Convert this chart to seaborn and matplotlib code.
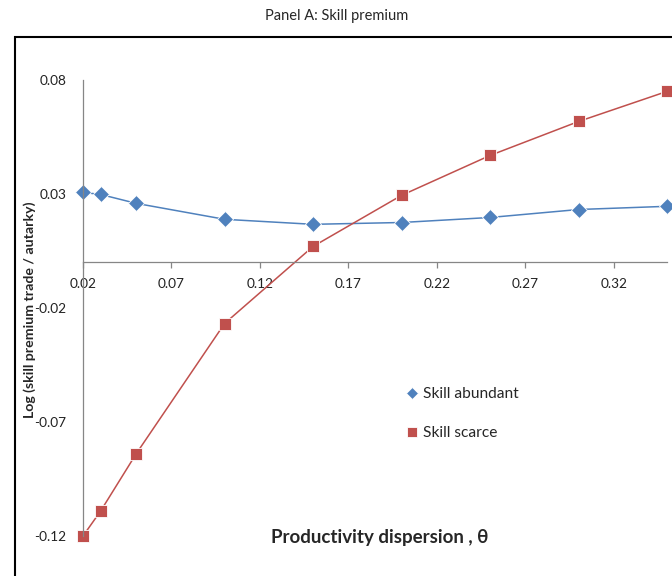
import matplotlib
matplotlib.use("Agg")
import matplotlib.pyplot as plt
import seaborn as sns
import pandas as pd
from matplotlib.patches import Rectangle

theta = [0.02, 0.03, 0.05, 0.10, 0.15, 0.20, 0.25, 0.30, 0.35]
skill_abundant = [0.0307, 0.0298, 0.0259, 0.0189, 0.0167, 0.0175, 0.0197, 0.0232, 0.0246]
skill_scarce = [-0.1200, -0.1090, -0.0840, -0.0268, 0.0070, 0.0294, 0.0469, 0.0618, 0.0750]
x_ticks = [0.02, 0.07, 0.12, 0.17, 0.22, 0.27, 0.32]
y_ticks = [-0.12, -0.07, -0.02, 0.03, 0.08]

sns.set_theme(style="white")
plt.rcParams['font.family'] = ['Lato', 'DejaVu Sans']

df = pd.DataFrame({
    "theta": theta * 2,
    "value": skill_abundant + skill_scarce,
    "series": ["Skill abundant"] * len(theta) + ["Skill scarce"] * len(theta),
})

fig = plt.figure(figsize=(6.72, 5.76), dpi=100)
ax = fig.add_axes([83/672, 1 - 536/576, (667 - 83)/672, (536 - 80)/576])

palette = {"Skill abundant": "#4F81BD", "Skill scarce": "#C0504D"}
sns.lineplot(data=df, x="theta", y="value", hue="series", style="series",
             palette=palette, markers={"Skill abundant": "D", "Skill scarce": "s"},
             dashes=False, markersize=8, linewidth=1.1, markeredgewidth=0.6,
             ax=ax, legend=True)
for ln in ax.lines:
    ln.set_clip_on(False)

ax.set_xlim(0.02, 0.35)
ax.set_ylim(-0.12, 0.08)
ax.set_xticks(x_ticks)
ax.set_xticklabels([f"{v:.2f}" for v in x_ticks])
ax.set_yticks(y_ticks)
ax.set_yticklabels([f"{v:.2f}" for v in y_ticks])

for s in ["top", "right"]:
    ax.spines[s].set_visible(False)
ax.spines["bottom"].set_position(("data", 0))
ax.spines["left"].set_color("#868686")
ax.spines["bottom"].set_color("#868686")
ax.spines["left"].set_linewidth(0.9)
ax.spines["bottom"].set_linewidth(0.9)
ax.tick_params(axis="x", direction="out", length=4, width=0.9, color="#868686",
               labelsize=9.8, pad=7, bottom=True)
ax.tick_params(axis="y", length=0, labelsize=9.8, pad=12, left=True)
for t in ax.get_xticklabels() + ax.get_yticklabels():
    t.set_color("#222222")

ax.set_xlabel("")
ax.set_ylabel("")
fig.text(30/672, 1 - 310/576, "Log (skill premium trade / autarky)", rotation=90,
         ha="center", va="center", fontsize=10.2, fontweight="bold")
fig.text(380/672, 1 - 538/576, "Productivity dispersion , θ",
         ha="center", va="center", fontsize=13.5, fontweight="bold")
fig.text(337/672, 1 - 16/576, "Panel A: Skill premium", ha="center", va="center",
         fontsize=10.5)

h, l = ax.get_legend_handles_labels()
ax.get_legend().remove()
fig.legend(h, l, loc="upper left", bbox_to_anchor=(400/672, 1 - 381/576),
           frameon=False, fontsize=11.2, labelspacing=1.6, handlelength=0.7,
           handletextpad=0.35, borderaxespad=0)
for hd in fig.legends[0].legend_handles:
    hd.set_linestyle("none")
    hd.set_markersize(6.5)

fig.patches.append(Rectangle((15/672, -0.01), 1.0, 1 - 37/576 + 0.01,
                             transform=fig.transFigure, fill=False,
                             edgecolor="black", linewidth=1.5))

fig.savefig("out.png", dpi=100)
